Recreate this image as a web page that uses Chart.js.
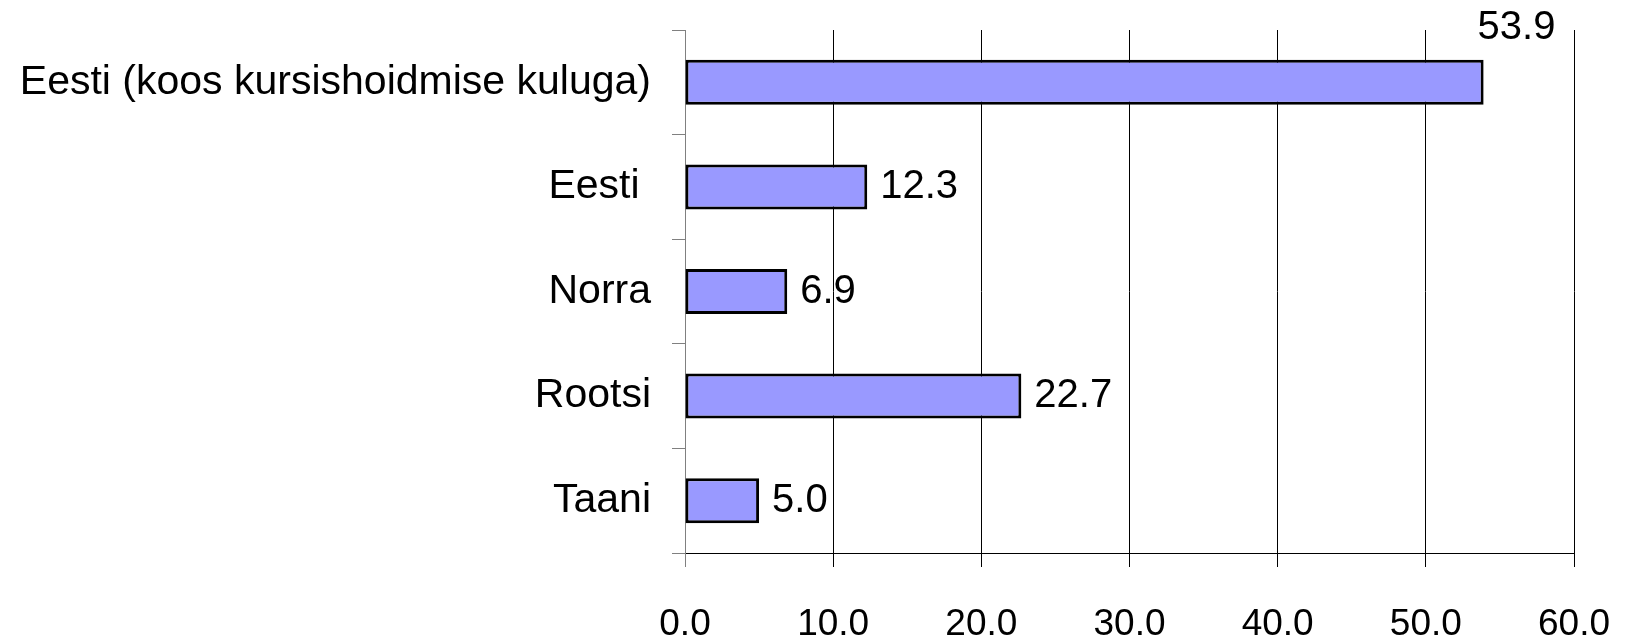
<!DOCTYPE html>
<html>
<head>
<meta charset="utf-8">
<script src="https://cdn.jsdelivr.net/npm/chart.js@4/dist/chart.umd.min.js"></script>
<style>
  html, body { margin: 0; padding: 0; background: #fff; }
  #wrap { width: 1625px; height: 637px; }
</style>
</head>
<body>
<div id="wrap"><canvas id="chart" width="1625" height="637"></canvas></div>
<script>
const categories = ['Eesti (koos kursishoidmise kuluga)', 'Eesti ', 'Norra', 'Rootsi', 'Taani'];
const values = [53.9, 12.3, 6.9, 22.7, 5.0];
const xTicks = [0, 10, 20, 30, 40, 50, 60];

const FONT = "'Liberation Sans', Arial, sans-serif";

// value labels at the bar ends; the one that would run into the right edge goes above its bar
const valueLabels = {
  id: 'valueLabels',
  afterDatasetsDraw(chart) {
    const ctx = chart.ctx;
    const area = chart.chartArea;
    const meta = chart.getDatasetMeta(0);
    ctx.save();
    ctx.font = '40px ' + FONT;
    ctx.fillStyle = '#000';
    ctx.textAlign = 'left';
    ctx.textBaseline = 'middle';
    meta.data.forEach((bar, i) => {
      const text = values[i].toFixed(1);
      const w = ctx.measureText(text).width;
      if (bar.x + 13 + w > area.right - 10) {
        ctx.fillText(text, bar.x - 6, bar.y - bar.height / 2 - 32);
      } else {
        ctx.fillText(text, bar.x + 13, bar.y);
      }
    });
    ctx.restore();
  },
};

new Chart(document.getElementById('chart'), {
  type: 'bar',
  data: {
    labels: categories,
    datasets: [{
      data: values,
      backgroundColor: '#9999ff',
      borderColor: '#000',
      borderWidth: 3,
      borderSkipped: false,
      categoryPercentage: 1,
      barPercentage: 0.43,
    }],
  },
  options: {
    indexAxis: 'y',
    responsive: false,
    devicePixelRatio: 1,
    animation: false,
    layout: { padding: { top: 30, right: 51, left: 0, bottom: 0 } },
    plugins: { legend: { display: false }, tooltip: { enabled: false } },
    scales: {
      x: {
        min: 0,
        max: 60,
        afterBuildTicks(scale) { scale.ticks = xTicks.map(v => ({ value: v })); },
        afterFit(scale) {
          scale.height = 84;
          scale.paddingLeft = 0;
          scale.paddingRight = 0;
        },
        grid: {
          color: ctx => (ctx.index === 0 ? '#808080' : '#000'),
          lineWidth: 1,
          tickLength: 14,
          drawOnChartArea: true,
        },
        border: { display: true, color: '#000', width: 1 },
        ticks: {
          color: '#000',
          font: { family: FONT, size: 37 },
          padding: 36,
          maxRotation: 0,
          callback: v => Number(v).toFixed(1),
        },
      },
      y: {
        afterFit(scale) {
          scale.width = 685;
          scale.paddingTop = 0;
          scale.paddingBottom = 0;
        },
        grid: {
          offset: true,
          drawOnChartArea: false,
          drawTicks: true,
          tickLength: 13,
          color: '#808080',
        },
        border: { display: true, color: '#808080', width: 1 },
        ticks: {
          color: '#000',
          font: { family: FONT, size: 41 },
          padding: 21,
        },
      },
    },
  },
  plugins: [valueLabels],
});
</script>
</body>
</html>
